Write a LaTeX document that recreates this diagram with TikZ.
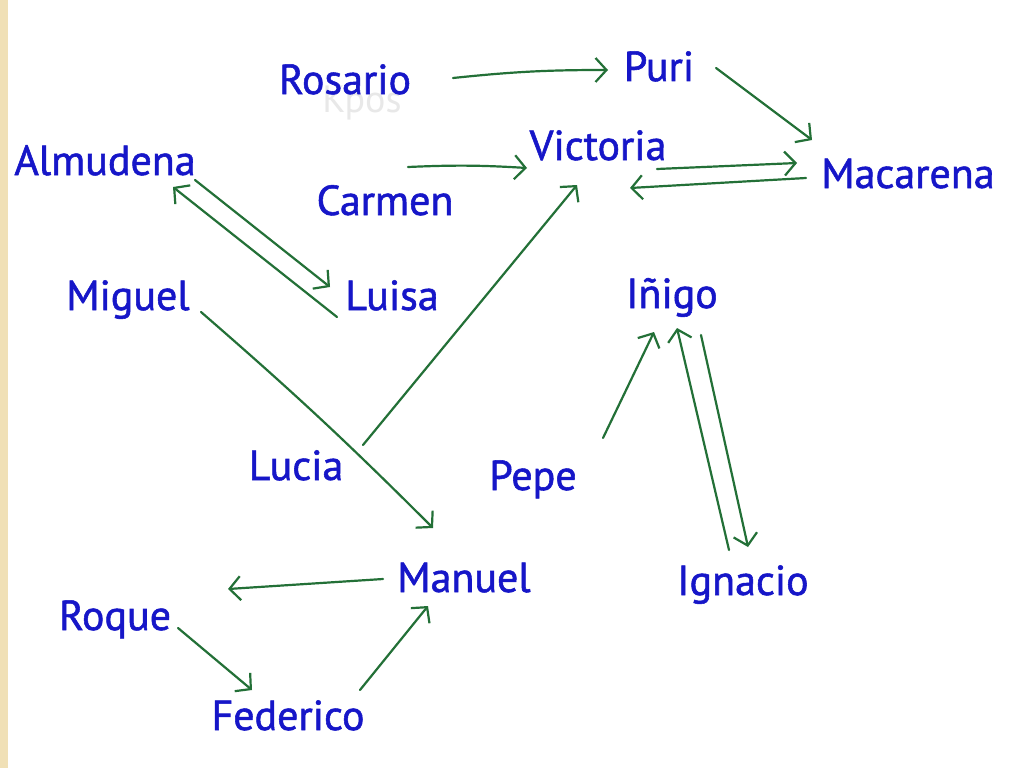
\documentclass[tikz,border=0pt]{standalone}
\usepackage{fontspec}
\setmainfont{PT Sans}
\newfontfamily\personfont{PT Sans}[FakeBold=1.3]
\usetikzlibrary{arrows.meta,calc}
\definecolor{namecol}{RGB}{22,22,200}
\definecolor{arrcol}{RGB}{35,112,55}
\definecolor{strip}{RGB}{240,224,182}
\tikzset{
  person/.style={text=namecol,font=\personfont\fontsize{42}{48}\selectfont,anchor=base,inner sep=0pt},
  arr/.style={draw=arrcol,line width=2.2pt,line cap=round,line join=round,
     -{Straight Barb[length=11pt,width=24pt,line width=2.2pt]}}
}
\begin{document}
\begin{tikzpicture}[x=1pt,y=-1pt]
\useasboundingbox (0,0) rectangle (1024,768);
\fill[white] (0,0) rectangle (1024,768);
\fill[strip] (0,0) rectangle (8,768);
% faint text
\node[text=black!9,font=\fontsize{38}{44}\selectfont,anchor=base,inner sep=0pt] (kpos) at (362,112) {Kpos};
% names
\node[person] (rosario) at (345,94) {Rosario};
\node[person] (puri) at (659,81) {Puri};
\node[person] (victoria) at (598,160) {Victoria};
\node[person] (macarena) at (908,188) {Macarena};
\node[person] (almudena) at (105,175) {Almudena};
\node[person] (carmen) at (385,215) {Carmen};
\node[person] (miguel) at (128,310) {Miguel};
\node[person] (luisa) at (392,310) {Luisa};
\node[person] (inigo) at (672,308) {Iñigo};
\node[person] (lucia) at (296,480) {Lucia};
\node[person] (pepe) at (533,490) {Pepe};
\node[person] (manuel) at (464,592) {Manuel};
\node[person] (ignacio) at (743,595) {Ignacio};
\node[person] (roque) at (115,630) {Roque};
\node[person] (federico) at (288,730) {Federico};
\coordinate (free) at (228,589);
% arrows
\draw[arr] ($(rosario.base)+(108,-16)$) to[bend left=3] ($(puri.base)+(-51,-11)$);
\draw[arr] ($(puri.base)+(57,-13)$) -- ($(macarena.base)+(-96,-48)$);
\draw[arr] ($(carmen.base)+(23,-48)$) to[bend left=3] ($(victoria.base)+(-71,8)$);
\draw[arr] ($(victoria.base)+(59,9)$) -- ($(macarena.base)+(-111,-25)$);
\draw[arr] ($(macarena.base)+(-102,-10)$) -- ($(victoria.base)+(32,28)$);
\draw[arr] ($(almudena.base)+(90,5)$) -- ($(luisa.base)+(-62,-23)$);
\draw[arr] ($(luisa.base)+(-55,7)$) -- ($(almudena.base)+(68,12)$);
\draw[arr] ($(miguel.base)+(73,2)$) to[bend left=2] ($(manuel.base)+(-31,-64)$);
\draw[arr] ($(lucia.base)+(67,-35)$) -- ($(victoria.base)+(-21,25)$);
\draw[arr] ($(pepe.base)+(70,-52)$) -- ($(inigo.base)+(-18,24)$);
\draw[arr] ($(inigo.base)+(29,27)$) -- ($(ignacio.base)+(5,-48)$);
\draw[arr] ($(ignacio.base)+(-14,-45)$) -- ($(inigo.base)+(5,20)$);
\draw[arr] ($(manuel.base)+(-81,-13)$) -- (free);
\draw[arr] ($(roque.base)+(63,-2)$) -- ($(federico.base)+(-36,-40)$);
\draw[arr] ($(federico.base)+(72,-40)$) -- ($(manuel.base)+(-36,14)$);
\end{tikzpicture}
\end{document}
